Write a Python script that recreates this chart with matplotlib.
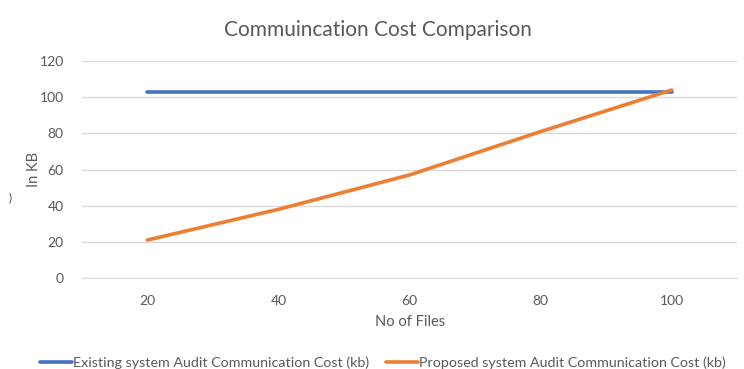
import matplotlib
matplotlib.use("Agg")
import matplotlib.pyplot as plt

files = [20, 40, 60, 80, 100]
existing = [103, 103, 103, 103, 103]
proposed = [21, 38, 57, 81, 104]
yticks = [0, 20, 40, 60, 80, 100, 120]

plt.rcParams['font.family'] = ['Lato', 'DejaVu Sans']
grey = '#595959'

fig = plt.figure(figsize=(7.44, 3.69), dpi=100)
ax = fig.add_axes([0.110, 0.2466, 0.881, 0.588])
ax.plot(files, existing, color='#4472C4', lw=2.6, solid_capstyle='round',
        label='Existing system Audit Communication Cost (kb)')
ax.plot(files, proposed, color='#ED7D31', lw=2.6, solid_capstyle='round',
        label='Proposed system Audit Communication Cost (kb)')
ax.set_xlim(10, 110)
ax.set_ylim(0, 120)
ax.set_xticks(files)
ax.set_yticks(yticks)
ax.grid(axis='y', color='#D9D9D9', lw=1)
ax.set_axisbelow(True)
for s in ['top', 'right', 'left']:
    ax.spines[s].set_visible(False)
ax.spines['bottom'].set_color('#D9D9D9')
ax.tick_params(axis='y', length=0, colors=grey, labelsize=10, pad=13)
ax.tick_params(axis='x', length=0, colors=grey, labelsize=10, pad=12)
ax.set_xlabel('No of Files', color=grey, fontsize=10.5, labelpad=6)
ax.set_ylabel('In KB', color=grey, fontsize=10.5)
ax.yaxis.set_label_coords(-0.062, 0.5)
fig.suptitle('Commuincation Cost Comparison', x=0.508, y=0.945, color=grey, fontsize=15)
fig.text(0.014, 0.465, ')', color='#404040', fontsize=8, ha='center', va='center')
fig.legend(loc='lower center', bbox_to_anchor=(0.515, -0.035), ncol=2, frameon=False,
           fontsize=10.3, handlelength=2.2, handletextpad=0.1, columnspacing=1.2,
           labelcolor=grey)
fig.savefig('out.png', dpi=100)
